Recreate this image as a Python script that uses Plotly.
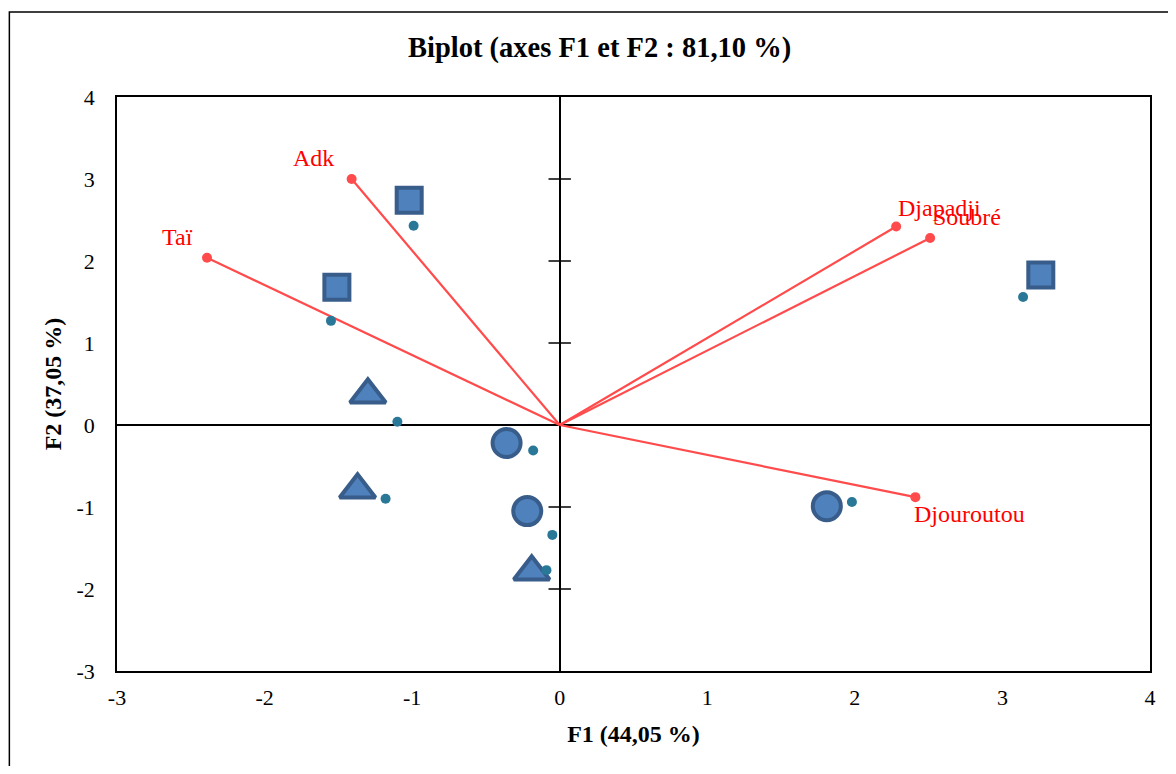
import plotly.graph_objects as go

# Variables (vectors)
var_names = ["Adk", "Taï", "Djapadji", "Soubré", "Djouroutou"]
var_f1 = [-1.41, -2.39, 2.28, 2.51, 2.41]
var_f2 = [3.00, 2.04, 2.42, 2.28, -0.88]

# Observations (small dots)
obs_f1 = [-0.99, -1.55, 3.14, -1.10, -1.18, -0.18, -0.05, -0.09, 1.98]
obs_f2 = [2.43, 1.27, 1.56, 0.04, -0.90, -0.31, -1.34, -1.77, -0.94]

# Group symbols (large markers)
sq_f1 = [-1.02, -1.51, 3.26]
sq_f2 = [2.74, 1.68, 1.83]
tri_f1 = [-1.30, -1.37, -0.19]
tri_f2 = [0.37, -0.79, -1.79]
circ_f1 = [-0.36, -0.22, 1.81]
circ_f2 = [-0.22, -1.05, -0.99]

x_ticks = [-3, -2, -1, 0, 1, 2, 3, 4]
y_ticks = [-3, -2, -1, 0, 1, 2, 3, 4]
x_ticktext = [str(v) for v in x_ticks]
y_ticktext = [str(v) for v in y_ticks]

FONT = "Liberation Serif, Times New Roman, serif"
RED_LINE = "#FF4B4B"
FILL = "#4F81BD"
EDGE = "#385D8A"
DOT = "#2A7898"

fig = go.Figure()

# vectors
for n, x, y in zip(var_names, var_f1, var_f2):
    fig.add_trace(go.Scatter(x=[0, x], y=[0, y], mode="lines",
                             line=dict(color=RED_LINE, width=2.2),
                             hoverinfo="skip", showlegend=False))
fig.add_trace(go.Scatter(x=var_f1, y=var_f2, mode="markers",
                         marker=dict(color=RED_LINE, size=10),
                         showlegend=False))

# tick marks on the vertical zero line
yt_inner = [v for v in y_ticks if v not in (0, y_ticks[0], y_ticks[-1])]
fig.add_trace(go.Scatter(x=[0] * len(yt_inner), y=yt_inner, mode="markers",
                         marker=dict(symbol="line-ew", size=16,
                                     line=dict(color="black", width=1.5)),
                         hoverinfo="skip", showlegend=False))

# large group markers
mk_line = dict(color=EDGE, width=4)
fig.add_trace(go.Scatter(x=sq_f1, y=sq_f2, mode="markers",
                         marker=dict(symbol="square", size=25, color=FILL, line=mk_line),
                         showlegend=False))
fig.add_trace(go.Scatter(x=tri_f1, y=tri_f2, mode="markers",
                         marker=dict(symbol="triangle-up", size=31, color=FILL, line=mk_line),
                         showlegend=False))
fig.add_trace(go.Scatter(x=circ_f1, y=circ_f2, mode="markers",
                         marker=dict(symbol="circle", size=28, color=FILL, line=mk_line),
                         showlegend=False))

# observation dots
fig.add_trace(go.Scatter(x=obs_f1, y=obs_f2, mode="markers",
                         marker=dict(color=DOT, size=10),
                         showlegend=False))

# variable labels
label_pos = {
    "Adk": dict(xanchor="right", yanchor="bottom", xshift=-16, yshift=6),
    "Taï": dict(xanchor="right", yanchor="bottom", xshift=-12, yshift=6),
    "Djapadji": dict(xanchor="left", yanchor="bottom", xshift=0, yshift=4),
    "Soubré": dict(xanchor="left", yanchor="bottom", xshift=1, yshift=6),
    "Djouroutou": dict(xanchor="left", yanchor="top", xshift=-3, yshift=-2),
}
for n, x, y in zip(var_names, var_f1, var_f2):
    fig.add_annotation(x=x, y=y, text=n, showarrow=False,
                       font=dict(family=FONT, size=24, color="#FF0000"),
                       **label_pos[n])

# outer frame
fig.add_shape(type="rect", xref="paper", yref="paper",
              x0=-0.1042, x1=1.08, y0=-0.25, y1=1.148,
              line=dict(color="black", width=1.5), layer="below")

fig.update_layout(
    width=1160, height=758,
    margin=dict(l=109, r=13, t=89, b=95),
    paper_bgcolor="white", plot_bgcolor="white",
    font=dict(family=FONT, size=22, color="black"),
    title=dict(text="<b>Biplot (axes F1 et F2 : 81,10 %)</b>",
               x=0.51, xanchor="center", y=0.948, yanchor="middle",
               font=dict(family=FONT, size=28.5, color="black")),
    xaxis=dict(range=[x_ticks[0], x_ticks[-1]], tickvals=x_ticks, ticktext=x_ticktext,
               showgrid=False, zeroline=True, zerolinecolor="black", zerolinewidth=1.5,
               showline=True, mirror=True, linecolor="black", linewidth=1.5,
               ticks="", ticklabelstandoff=6,
               title=dict(text="<b>F1 (44,05 %)</b>", font=dict(family=FONT, size=24),
                          standoff=16)),
    yaxis=dict(range=[y_ticks[0], y_ticks[-1]], tickvals=y_ticks, ticktext=y_ticktext,
               showgrid=False, zeroline=True, zerolinecolor="black", zerolinewidth=1.5,
               showline=True, mirror=True, linecolor="black", linewidth=1.5,
               ticks="", ticklabelstandoff=16,
               title=dict(text="<b>F2 (37,05 %)</b>", font=dict(family=FONT, size=24),
                          standoff=8)),
)

fig.write_html("out.html")
